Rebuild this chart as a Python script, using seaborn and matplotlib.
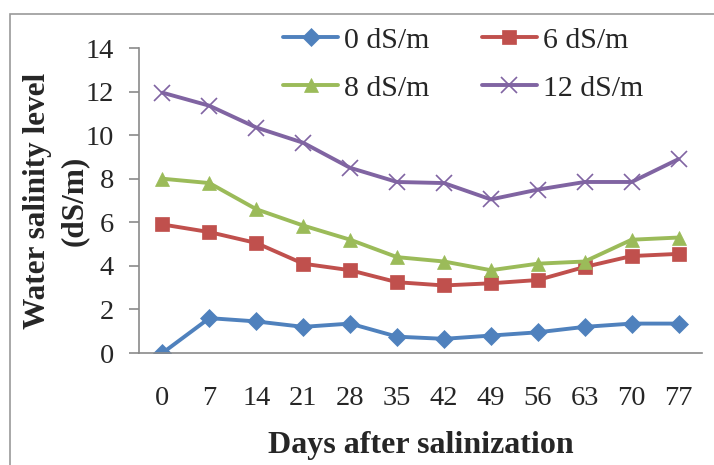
import matplotlib
matplotlib.use("Agg")
import matplotlib.pyplot as plt
import seaborn as sns
import pandas as pd
from matplotlib.patches import Rectangle

days = [0, 7, 14, 21, 28, 35, 42, 49, 56, 63, 70, 77]
series_names = ["0 dS/m", "6 dS/m", "8 dS/m", "12 dS/m"]
sal_0 = [0.0, 1.6, 1.45, 1.2, 1.35, 0.75, 0.65, 0.8, 0.95, 1.2, 1.35, 1.35]
sal_6 = [5.9, 5.55, 5.05, 4.1, 3.8, 3.25, 3.1, 3.2, 3.35, 3.95, 4.45, 4.55]
sal_8 = [8.0, 7.8, 6.6, 5.85, 5.2, 4.4, 4.2, 3.8, 4.1, 4.2, 5.2, 5.3]
sal_12 = [11.95, 11.35, 10.35, 9.65, 8.5, 7.85, 7.8, 7.05, 7.5, 7.85, 7.85, 8.9]
y_ticks = [0, 2, 4, 6, 8, 10, 12, 14]

colors = ["#4F81BD", "#C0504D", "#9BBB59", "#8064A2"]
markers = ["D", "s", "^", "x"]
msizes = [9, 10, 10, 12]

df = pd.DataFrame({
    "day": days * 4,
    "value": sal_0 + sal_6 + sal_8 + sal_12,
    "series": sum([[n] * len(days) for n in series_names], []),
})

sns.set_theme(style="white")
plt.rcParams["font.family"] = ["Liberation Serif", "DejaVu Serif"]

fig = plt.figure(figsize=(7.14, 4.65), dpi=100)
ax = fig.add_axes([139 / 714, 1 - 353 / 465, (702 - 139) / 714, (353 - 48) / 465])

# outer chart frame
fig.patches.append(Rectangle((10 / 714, -0.1), 1.2, 1 - 14 / 465 + 0.1,
                             transform=fig.transFigure, fill=False,
                             edgecolor="#9a9a9a", linewidth=1.2, zorder=0))

for name, c, m, ms in zip(series_names, colors, markers, msizes):
    sub = df[df["series"] == name]
    sns.lineplot(data=sub, x="day", y="value", ax=ax, color=c, linewidth=2.8,
                 marker=m, markersize=ms, markeredgecolor=c,
                 markeredgewidth=1.2 if m == "x" else 0.5, label=name,
                 legend=False)

ax.set_xlim(days[0] - 3.5, days[-1] + 3.5)
ax.set_ylim(0, 14)
ax.set_yticks(y_ticks)
ax.set_yticklabels([str(v) for v in y_ticks], fontsize=20.5)
ax.set_xticks(days)
ax.set_xticklabels([str(d) for d in days], fontsize=20.5)
ax.set_xticks([d - 3.5 for d in days] + [days[-1] + 3.5], minor=True)
ax.tick_params(axis="x", which="major", length=0, pad=24)
ax.tick_params(axis="x", which="minor", length=7, width=1.2, color="#8a8a8a", direction="out")
ax.tick_params(axis="y", length=7, width=1.2, color="#8a8a8a", direction="out", pad=11, left=True)

for s in ["top", "right"]:
    ax.spines[s].set_visible(False)
for s in ["left", "bottom"]:
    ax.spines[s].set_color("#8a8a8a")
    ax.spines[s].set_linewidth(1.2)

ax.set_xlabel("Days after salinization", fontsize=23, fontweight="bold", labelpad=14)
ax.set_ylabel("Water salinity level\n(dS/m)", fontsize=22.5, fontweight="bold", labelpad=-2,
              linespacing=1.35)

# legend laid out row-wise: 0 / 6 on the first row, 8 / 12 on the second
handles, labels = ax.get_legend_handles_labels()
order = [0, 2, 1, 3]
leg = ax.legend([handles[i] for i in order], [labels[i] for i in order], ncol=2,
                loc="upper left",
                bbox_to_anchor=(271 / 714, 1 - 15 / 465), bbox_transform=fig.transFigure,
                frameon=False, fontsize=21.5, handlelength=1.85, handletextpad=0.2,
                columnspacing=1.75, labelspacing=0.7, borderaxespad=0)

fig.savefig("out.png", dpi=100)
